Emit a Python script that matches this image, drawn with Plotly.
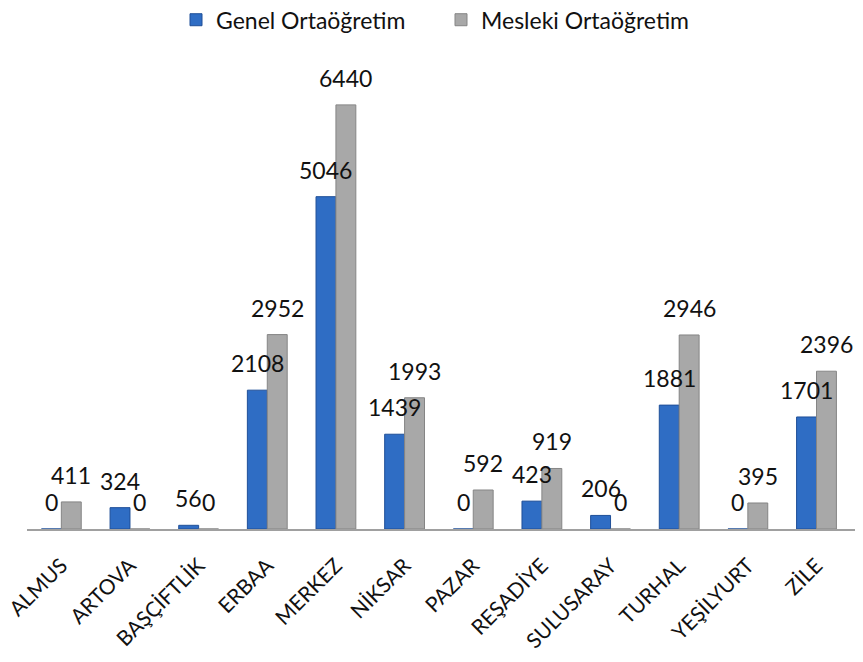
import plotly.graph_objects as go

ilceler = ['ALMUS', 'ARTOVA', 'BAŞÇİFTLİK', 'ERBAA', 'MERKEZ', 'NİKSAR', 'PAZAR',
           'REŞADİYE', 'SULUSARAY', 'TURHAL', 'YEŞİLYURT', 'ZİLE']
genel = [0, 324, 56, 2108, 5046, 1439, 0, 423, 206, 1881, 0, 1701]
mesleki = [411, 0, 0, 2952, 6440, 1993, 592, 919, 0, 2946, 395, 2396]

font_name = 'Lato, Open Sans, sans-serif'

fig = go.Figure()

# genel ortaöğretim - mavi
fig.add_trace(go.Bar(
    x=ilceler, y=genel, name='Genel Ortaöğretim',
    marker=dict(color='#2f6dc4', line=dict(color='#1f4f98', width=1)),
))

# mesleki ortaöğretim - gri
fig.add_trace(go.Bar(
    x=ilceler, y=mesleki, name='Mesleki Ortaöğretim',
    marker=dict(color='#a8a8a8', line=dict(color='#858585', width=1)),
))

# değer etiketleri (çubukların üstünde, en üstte çizilsin diye annotation)
for seri, kayma in [(genel, -10), (mesleki, 10)]:
    for ilce, deger in zip(ilceler, seri):
        fig.add_annotation(x=ilce, y=deger, text=str(deger), showarrow=False,
                           xshift=kayma, yshift=27, yanchor='middle',
                           font=dict(size=23, color='#111111'))

# sayfanın 8px body boşluğu yüzünden boyut 855x654
fig.update_layout(
    width=855, height=654,
    margin=dict(l=19, r=8, t=60, b=133),
    barmode='group',
    bargap=0.42,
    bargroupgap=0,
    plot_bgcolor='white',
    paper_bgcolor='white',
    font=dict(family=font_name, size=22, color='#111111'),
    legend=dict(orientation='h', x=0.5, xanchor='center', yref='container', y=0.982,
                yanchor='middle', font=dict(size=23), entrywidth=220),
)

fig.update_xaxes(showline=True, linecolor='#a0a0a0', linewidth=2, tickangle=-45,
                 tickfont=dict(size=21), showgrid=False, ticks='', automargin=False,
                 ticklabelstandoff=14)
fig.update_yaxes(range=[0, 7000], visible=False, showgrid=False)

fig.write_html("out.html")
